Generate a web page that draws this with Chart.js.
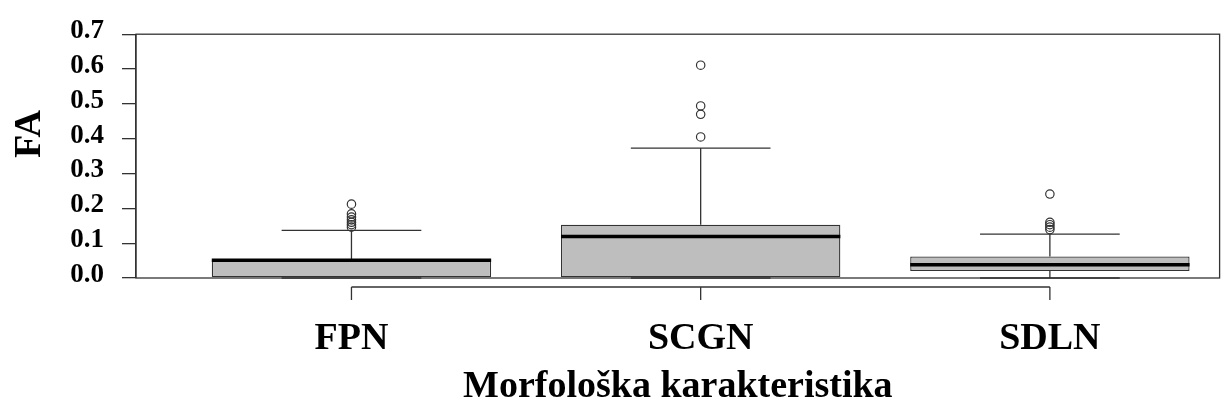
<!DOCTYPE html>
<html><head><meta charset="utf-8">
<script src="https://cdn.jsdelivr.net/npm/chart.js@4.4.0/dist/chart.umd.min.js"></script>
<style>html,body{margin:0;padding:0;background:#fff}#wrap{width:1225px;height:412px;position:relative}</style>
</head><body><div id="wrap"><canvas id="c"></canvas></div>
<script>
// ---- data ----
const categories = ['FPN', 'SCGN', 'SDLN'];
const q1 = [0.000, 0.000, 0.020];
const medians = [0.051, 0.119, 0.038];
const q3 = [0.053, 0.153, 0.062];
const whiskerLow = [0.000, 0.000, 0.000];
const whiskerHigh = [0.137, 0.373, 0.126];
const outliersFPN = [0.212, 0.184, 0.175, 0.167, 0.160, 0.153, 0.146];
const outliersSCGN = [0.611, 0.494, 0.470, 0.405];
const outliersSDLN = [0.241, 0.160, 0.153, 0.146, 0.139];
const outliers = [outliersFPN, outliersSCGN, outliersSDLN];
const yTicks = [0.0, 0.1, 0.2, 0.3, 0.4, 0.5, 0.6, 0.7];
const yTitle = 'FA';
const xTitle = 'Morfološka karakteristika';

// ---- style ----
const FONT = "'Liberation Serif', 'Times New Roman', serif";
const LINE = '#333333';

const boxPlugin = {
  id: 'boxParts',
  beforeDatasetsDraw(chart) {
    const {ctx, scales: {x, y}} = chart;
    ctx.save();
    ctx.strokeStyle = LINE;
    ctx.lineWidth = 1.3;
    categories.forEach((c, i) => {
      const cx = x.getPixelForValue(i + 1);
      const l = x.getPixelForValue(i + 1 - 0.2), r = x.getPixelForValue(i + 1 + 0.2);
      ctx.beginPath();
      ctx.moveTo(cx, y.getPixelForValue(q3[i]));
      ctx.lineTo(cx, y.getPixelForValue(whiskerHigh[i]));
      ctx.moveTo(cx, y.getPixelForValue(q1[i]));
      ctx.lineTo(cx, y.getPixelForValue(whiskerLow[i]));
      ctx.moveTo(l, y.getPixelForValue(whiskerHigh[i]));
      ctx.lineTo(r, y.getPixelForValue(whiskerHigh[i]));
      ctx.moveTo(l, y.getPixelForValue(whiskerLow[i]));
      ctx.lineTo(r, y.getPixelForValue(whiskerLow[i]));
      ctx.stroke();
    });
    ctx.restore();
  },
  afterDatasetsDraw(chart) {
    const {ctx, scales: {x, y}} = chart;
    ctx.save();
    ctx.strokeStyle = '#000';
    ctx.lineWidth = 3.5;
    categories.forEach((c, i) => {
      const l = x.getPixelForValue(i + 1 - 0.4), r = x.getPixelForValue(i + 1 + 0.4);
      const py = y.getPixelForValue(medians[i]);
      ctx.beginPath();
      ctx.moveTo(l, py);
      ctx.lineTo(r, py);
      ctx.stroke();
    });
    ctx.restore();
  },
  afterDraw(chart) {
    const {ctx, chartArea: a, scales: {x}} = chart;
    ctx.save();
    ctx.strokeStyle = LINE;
    ctx.lineWidth = 1.3;
    ctx.strokeRect(a.left, a.top, a.right - a.left, a.bottom - a.top);
    // separate category axis below the frame
    const ay = a.bottom + 9;
    ctx.beginPath();
    ctx.moveTo(x.getPixelForValue(1), ay);
    ctx.lineTo(x.getPixelForValue(categories.length), ay);
    categories.forEach((c, i) => {
      const px = x.getPixelForValue(i + 1);
      ctx.moveTo(px, ay);
      ctx.lineTo(px, ay + 13);
    });
    ctx.stroke();
    // y title
    ctx.fillStyle = '#000';
    ctx.font = "bold 38px " + FONT;
    ctx.textAlign = 'center';
    ctx.textBaseline = 'middle';
    ctx.translate(30, 134);
    ctx.rotate(-Math.PI / 2);
    ctx.fillText(yTitle, 0, 0);
    ctx.restore();
  }
};

new Chart(document.getElementById('c'), {
  type: 'bar',
  data: {
    datasets: [
      {
        type: 'bar',
        data: categories.map((c, i) => ({x: i + 1, y: [q1[i], q3[i]]})),
        backgroundColor: '#bebebe',
        borderColor: LINE,
        borderWidth: 1.3,
        borderSkipped: false,
        barPercentage: 0.8,
        categoryPercentage: 1.0,
        order: 2
      },
      {
        type: 'scatter',
        data: outliers.flatMap((arr, i) => arr.map(v => ({x: i + 1, y: v}))),
        pointStyle: 'circle',
        pointRadius: 4.2,
        pointBorderWidth: 1.2,
        pointBorderColor: LINE,
        pointBackgroundColor: 'rgba(0,0,0,0)',
        showLine: false,
        order: 1
      }
    ]
  },
  options: {
    responsive: true,
    maintainAspectRatio: false,
    animation: false,
    layout: {padding: {top: 32, right: 3, bottom: 0, left: 0}},
    plugins: {legend: {display: false}, tooltip: {enabled: false}},
    scales: {
      x: {
        type: 'linear',
        offset: false,
        min: 0.383,
        max: 3.486,
        afterBuildTicks: s => { s.ticks = categories.map((c, i) => ({value: i + 1})); },
        afterFit: s => { s.height = 134; },
        ticks: {
          callback: (v, idx) => categories[idx],
          font: {family: FONT, size: 38, weight: 'bold'},
          color: '#000',
          padding: 38,
          autoSkip: false,
          maxRotation: 0
        },
        grid: {display: false, drawTicks: false, offset: false},
        border: {display: false},
        title: {
          display: true,
          text: xTitle,
          font: {family: FONT, size: 38, weight: 'bold'},
          color: '#000',
          padding: {top: 0, bottom: 2}
        }
      },
      y: {
        min: 0,
        max: 0.7,
        afterBuildTicks: s => { s.ticks = yTicks.map(v => ({value: v})); },
        afterFit: s => { s.width = 136; },
        ticks: {
          callback: v => Number(v).toFixed(1),
          font: {family: FONT, size: 27, weight: 'bold'},
          color: '#000',
          padding: 18,
          labelOffset: -3,
          autoSkip: false
        },
        grid: {drawOnChartArea: false, drawTicks: true, tickLength: 14, color: LINE, lineWidth: 1.3},
        border: {display: true, color: LINE, width: 1.3}
      }
    }
  },
  plugins: [boxPlugin]
});
</script>
</body></html>
